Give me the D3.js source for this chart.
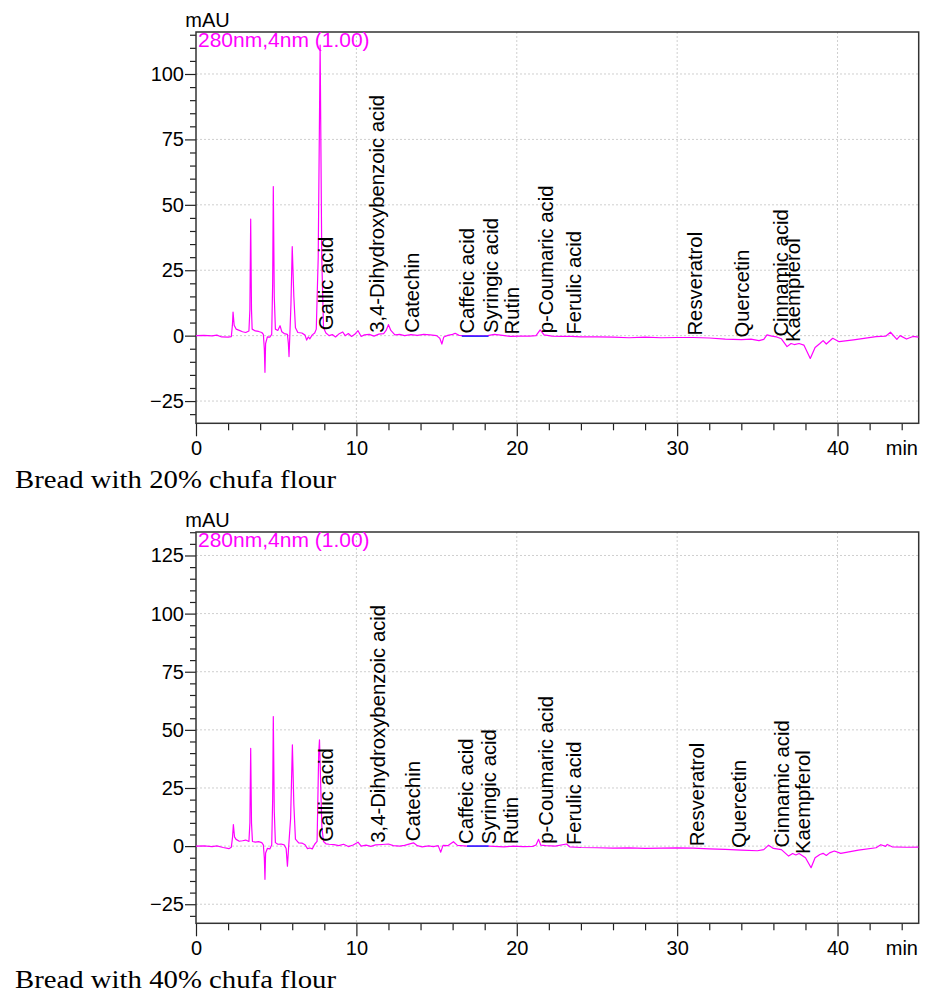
<!DOCTYPE html>
<html lang="en">
<head>
<meta charset="utf-8">
<title>Chromatograms</title>
<script src="https://cdn.jsdelivr.net/npm/d3@7"></script>
<style>
  body { margin: 0; background: #fff; }
  svg text { font-family: "Liberation Sans", Arial, sans-serif; }
</style>
</head>
<body>
<svg width="929" height="994"></svg>
<script>
// compounds marked on both chromatograms
const compounds = ['Gallic acid', '3,4-Dihydroxybenzoic acid', 'Catechin', 'Caffeic acid', 'Syringic acid', 'Rutin',
                   'p-Coumaric acid', 'Ferulic acid', 'Resveratrol', 'Quercetin', 'Cinnamic acid', 'Kaempferol'];
// label retention times (min)
const labelRt20 = [8.08, 11.29, 13.47, 16.9, 18.4, 19.71, 21.83, 23.58, 31.13, 34.04, 36.46, 37.21];
const labelRt40 = [8.1, 11.36, 13.5, 16.8, 18.28, 19.65, 21.83, 23.58, 31.2, 33.82, 36.5, 37.83];

const captions = ['Bread with 20% chufa flour', 'Bread with 40% chufa flour'];
const xTicks = [0, 10, 20, 30, 40];
const yTicks20 = [-25, 0, 25, 50, 75, 100];
const yTicks40 = [-25, 0, 25, 50, 75, 100, 125];

// detector signal [time min, mAU]
const trace20 = [[0,0],[0.5,0.1],[1.0,-0.1],[1.3,0.2],[1.6,-0.5],[2.0,-0.6],[2.2,-0.4],
  [2.27,4],[2.31,9],[2.38,4],[2.5,2.5],[2.7,2],[2.9,1.5],[3.1,1.2],[3.3,1.8],
  [3.36,10],[3.41,44.5],[3.46,10],[3.5,2.5],[3.7,1.8],[3.9,1.6],[4.1,1.2],[4.2,0.5],
  [4.26,-5],[4.30,-14],[4.34,-3],[4.45,-0.5],[4.6,-0.6],[4.72,0.5],
  [4.78,20],[4.82,57],[4.88,15],[4.95,2.5],[5.1,2],[5.24,3.8],[5.35,1.5],[5.5,0.8],[5.7,0.5],
  [5.76,-3],[5.80,-8],[5.85,0],[5.92,12],[6.0,34],[6.1,15],[6.2,3],[6.35,1.2],[6.6,1],[6.8,0.2],
  [6.9,-1.7],[7.0,-0.5],[7.1,-1.2],[7.25,0.3],[7.4,1],[7.5,2.5],
  [7.62,30],[7.74,111],[7.84,30],[7.95,3],[8.1,1],[8.3,0],[8.5,0.4],[8.7,-0.5],[8.9,0.6],[9.15,1.4],
  [9.3,0],[9.5,0.8],[9.7,-0.3],[9.9,0.5],[10.1,1.9],[10.3,-0.3],[10.5,0.3],[10.8,0.5],[11.1,-0.2],
  [11.4,0.6],[11.7,0.8],[11.85,2],[12.0,4.2],[12.15,2],[12.4,0.3],[12.7,0.5],[13.0,0],[13.4,0.4],
  [13.8,0.1],[14.2,0.5],[14.6,0.3],[15.0,0],[15.2,-1],[15.33,-3.2],[15.45,-0.5],[15.7,0.1],[16.0,0.5],
  [16.16,0.9],[16.4,0.1],[17.0,0],[17.5,-0.1],[18.2,0],[18.6,0.5],[19.0,0.2],[19.6,-0.3],[20.2,-0.2],
  [20.8,-0.2],[21.2,0],[21.46,2.2],[21.7,0.3],[22.2,-0.2],[22.8,-0.3],[23.4,-0.3],[24.0,-0.5],[25,-0.5],
  [26,-0.6],[27,-0.8],[28,-0.6],[29,-0.8],[30,-0.7],[31,-0.7],[32,-0.9],[33,-1.3],[34,-1.5],[34.6,-1.3],
  [35.1,-1.9],[35.4,-1.4],[35.6,0.3],[35.9,-0.2],[36.2,-0.5],[36.5,-1.2],[36.85,-4.2],[37.1,-3.0],
  [37.3,-3.4],[37.6,-3],[37.9,-3.6],[38.3,-8.7],[38.6,-4.5],[38.9,-3],[39.1,-1.9],[39.3,-3.2],[39.7,-1],
  [40.1,-2.3],[41,-1.6],[42.4,-0.4],[43.0,-0.2],[43.3,1.3],[43.7,-1.4],[43.9,0],[44.3,-1.3],[44.7,-0.3],[45.06,-0.6]];

const trace40 = [[0,0],[0.5,0.1],[1.0,-0.2],[1.3,0.1],[1.7,-0.6],[2.05,-1.1],[2.2,-0.5],
  [2.28,4],[2.33,9.3],[2.4,4],[2.5,2.9],[2.7,2.1],[2.9,2.3],[3.1,2.6],[3.3,2],
  [3.36,10],[3.41,42],[3.46,10],[3.52,2],[3.7,1.7],[3.9,1.9],[4.1,1.5],[4.2,0.5],
  [4.26,-5],[4.30,-14.3],[4.34,-3],[4.45,-1],[4.6,-1.2],[4.72,0.5],
  [4.78,20],[4.82,55.7],[4.88,15],[4.95,1.5],[5.1,0.8],[5.3,0.9],[5.5,0.5],[5.62,-1],[5.70,-8.6],
  [5.78,0],[5.9,12],[6.01,43.6],[6.1,18],[6.2,3],[6.4,1.4],[6.6,1.3],[6.8,0.6],[6.95,-1.1],[7.1,-0.8],
  [7.25,-1.2],[7.4,0.8],[7.55,2],[7.65,40],[7.7,45.7],[7.78,25],[7.85,8],[7.95,2],[8.1,1],[8.3,0.8],
  [8.6,0.6],[8.9,0.2],[9.2,0.8],[9.5,-0.2],[9.8,0.5],[10.1,1.7],[10.3,0],[10.6,0.4],[10.9,-0.1],
  [11.2,0.5],[11.6,0.7],[12.0,0.9],[12.3,0.2],[12.7,0],[13.0,0.3],[13.56,1.4],[13.8,0.2],[14.1,-0.3],
  [14.5,0.1],[14.8,-0.2],[15.1,0.2],[15.26,-2.6],[15.4,0.3],[15.7,0.2],[16.05,1.9],[16.3,0.3],[16.9,0],
  [17.5,0],[18.24,0],[18.6,-0.1],[19.2,-0.3],[19.8,0],[20.4,-0.2],[21.0,-0.1],[21.2,0.5],[21.36,2.9],
  [21.5,0.4],[21.8,0.2],[22.4,0],[23.1,0.9],[23.3,-0.3],[24,-0.6],[25,-0.7],[26,-0.9],[27,-0.8],[28,-1],
  [29,-0.9],[30,-0.8],[31,-0.9],[32,-1.2],[33,-1.4],[34,-1.7],[35,-2],[35.4,-1.5],[35.7,0.4],[36,-1],
  [36.5,-1.5],[36.95,-4.3],[37.2,-3.2],[37.4,-3.8],[37.6,-3.2],[38.0,-5],[38.35,-9.3],[38.6,-5],
  [38.9,-3.6],[39.1,-3.1],[39.3,-4],[39.5,-2.9],[39.8,-2.1],[40.2,-3.1],[41.3,-1.7],[42.4,-0.7],
  [42.7,0.6],[43.0,-0.1],[43.1,0.7],[43.4,-0.3],[44.3,-0.5],[45.06,-0.4]];

// integration baseline drawn in blue (Caffeic → Syringic)
const blue20 = [[16.57,-0.2],[18.24,-0.2]];
const blue40 = [[16.9,0],[18.24,0]];

const panels = [
  {trace: trace20, rts: labelRt20, blue: blue20, yTicks: yTicks20, yDom: [-33.5, 116.05], off: 0, caption: captions[0]},
  {trace: trace40, rts: labelRt40, blue: blue40, yTicks: yTicks40, yDom: [-33.2, 135.1], off: 500, caption: captions[1]}
];

const svg = d3.select('svg');
const left = 196, right = 918.7;

function signalAt(tr, t) {
    const i = d3.bisector(d => d[0]).left(tr, t);
    if (i <= 0) return tr[0][1];
    if (i >= tr.length) return tr[tr.length - 1][1];
    const a = tr[i - 1], b = tr[i];
    return a[1] + (b[1] - a[1]) * (t - a[0]) / (b[0] - a[0]);
}

panels.forEach((p, k) => {
    const top = 32 + p.off, bottom = 423.3 + p.off;
    const x = d3.scaleLinear().domain([0, 45.06]).range([left, right]);
    const y = d3.scaleLinear().domain(p.yDom).range([bottom, top]);
    const g = svg.append('g');

    // dotted grid
    g.selectAll('line.gx').data(xTicks.filter(d => d > 0)).enter().append('line')
        .attr('class', 'gx')
        .attr('x1', d => x(d)).attr('x2', d => x(d)).attr('y1', top).attr('y2', bottom)
        .attr('stroke', '#cfcfcf').attr('stroke-dasharray', '2,2');
    g.selectAll('line.gy').data(p.yTicks).enter().append('line')
        .attr('class', 'gy')
        .attr('x1', left).attr('x2', right).attr('y1', d => y(d)).attr('y2', d => y(d))
        .attr('stroke', '#cfcfcf').attr('stroke-dasharray', '2,2');

    // axes
    const minorY = d3.range(-30, p.yDom[1], 5).filter(d => p.yTicks.indexOf(d) < 0);
    g.append('g').attr('transform', `translate(${left},0)`)
        .call(d3.axisLeft(y).tickValues(minorY).tickSize(6).tickSizeOuter(0).tickFormat(''));
    const ya = g.append('g').attr('transform', `translate(${left},0)`)
        .call(d3.axisLeft(y).tickValues(p.yTicks).tickSize(11).tickSizeOuter(0).tickPadding(1));
    const minorX = d3.range(2, 45, 2).filter(d => d % 10 !== 0);
    g.append('g').attr('transform', `translate(0,${bottom})`)
        .call(d3.axisBottom(x).tickValues(minorX).tickSize(7).tickSizeOuter(0).tickFormat(''));
    const xa = g.append('g').attr('transform', `translate(0,${bottom})`)
        .call(d3.axisBottom(x).tickValues(xTicks).tickSize(13).tickSizeOuter(0).tickPadding(5));
    g.selectAll('.domain').remove();
    g.selectAll('.tick line').attr('stroke', '#222').attr('stroke-width', 1.2);
    ya.selectAll('text').attr('font-size', 20).attr('fill', '#000')
        .attr('font-family', '"Liberation Sans", Arial, sans-serif');
    xa.selectAll('text').attr('font-size', 20).attr('fill', '#000')
        .attr('font-family', '"Liberation Sans", Arial, sans-serif');

    // frame
    g.append('rect').attr('x', left).attr('y', top).attr('width', right - left).attr('height', bottom - top)
        .attr('fill', 'none').attr('stroke', '#333').attr('stroke-width', 1.5);

    // trace
    const clipId = 'clip' + k;
    g.append('clipPath').attr('id', clipId).append('rect')
        .attr('x', left).attr('y', top).attr('width', right - left).attr('height', bottom - top);
    const line = d3.line().x(d => x(d[0])).y(d => y(d[1]));
    g.append('path').datum(p.trace).attr('d', line).attr('clip-path', `url(#${clipId})`)
        .attr('fill', 'none').attr('stroke', '#ff00ff').attr('stroke-width', 1.2)
        .attr('stroke-linejoin', 'round');
    g.append('path').datum(p.blue).attr('d', line)
        .attr('fill', 'none').attr('stroke', '#2b2bff').attr('stroke-width', 1.6);

    // peak labels
    g.selectAll('text.peak').data(compounds).enter().append('text')
        .attr('class', 'peak')
        .attr('transform', (d, i) => `translate(${x(p.rts[i])},${y(signalAt(p.trace, p.rts[i])) - 2}) rotate(-90)`)
        .attr('dy', '0.35em').attr('font-size', 20.3).attr('fill', '#000')
        .text(d => d);

    // annotations
    g.append('text').attr('x', 207.5).attr('y', top - 5.3).attr('text-anchor', 'middle')
        .attr('font-size', 20).text('mAU');
    g.append('text').attr('x', 198).attr('y', top + 14.7).attr('font-size', 21).attr('fill', '#ff00ff')
        .text('280nm,4nm (1.00)');
    g.append('text').attr('x', 918).attr('y', bottom + 31.7).attr('text-anchor', 'end')
        .attr('font-size', 20).text('min');
    g.append('text').attr('x', 15).attr('y', 488 + p.off)
        .style('font-family', '"Liberation Serif", "Times New Roman", serif')
        .attr('font-size', 25).attr('textLength', 321).attr('lengthAdjust', 'spacingAndGlyphs')
        .text(p.caption);
});
</script>
</body>
</html>
